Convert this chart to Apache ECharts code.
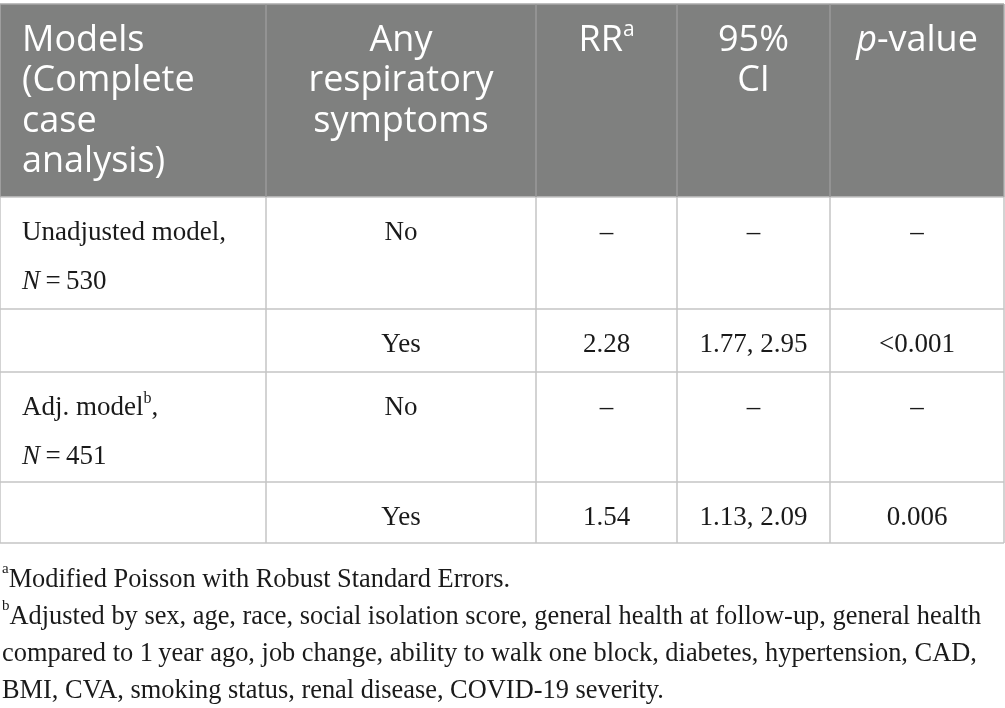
<!DOCTYPE html>
<html lang="en">
  <head>
    <meta charset="UTF-8" />
    <title>Respiratory symptoms RR table</title>
    <script src="https://cdn.jsdelivr.net/npm/echarts@6.0.0/dist/echarts.min.js"></script>
    <style>
      html, body { margin: 0; padding: 0; background: #fff; }
    </style>
  </head>
  <body>
    <div id="main" style="width: 1005px; height: 708px"></div>
    <script>
      // table content
      var headers = [
        'Models\n(Complete\ncase\nanalysis)',
        'Any\nrespiratory\nsymptoms',
        'RR{sup|a}',
        '95%\nCI',
        '{i|p}-value'
      ]
      var modelNames = ['Unadjusted model,', 'Adj. model{sup|b},']
      var modelN = [530, 451]
      var symptoms = ['No', 'Yes', 'No', 'Yes']
      var rrValues = [null, 2.28, null, 1.54]
      var ciLower = [null, 1.77, null, 1.13]
      var ciUpper = [null, 2.95, null, 2.09]
      var pValues = [null, '<0.001', null, '0.006']
      var footnotes = [
        '{fs|a}Modified Poisson with Robust Standard Errors.',
        '{fs|b}Adjusted by sex, age, race, social isolation score, general health at follow-up, general health',
        'compared to 1\u2009year ago, job change, ability to walk one block, diabetes, hypertension, CAD,',
        'BMI, CVA, smoking status, renal disease, COVID-19 severity.'
      ]

      // layout
      var colEdges = [0, 266, 536, 677, 830, 1004]
      var rowEdges = [4, 197, 309, 372, 482, 543]
      var headFont = '"Open Sans", "Noto Sans", sans-serif'
      var bodyFont = '"Liberation Serif", "DejaVu Serif", serif'
      var lineColor = '#c4c4c4'
      var ink = '#1a1a1a'

      var chart = echarts.init(document.getElementById('main'))
      var g = []

      // header background
      g.push({
        type: 'rect',
        shape: { x: colEdges[0], y: rowEdges[0], width: colEdges[5] - colEdges[0], height: rowEdges[1] - rowEdges[0] },
        style: { fill: '#7f807f' }
      })

      headers.forEach(function (h, c) {
        var left = c === 0
        g.push({
          type: 'text',
          style: {
            text: h,
            x: left ? colEdges[c] + 22 : (colEdges[c] + colEdges[c + 1]) / 2,
            y: 20,
            fill: '#fff',
            fontSize: 36,
            fontFamily: headFont,
            lineHeight: 40.5,
            align: left ? 'left' : 'center',
            verticalAlign: 'top',
            rich: {
              sup: { fontSize: 21, fontFamily: headFont, fill: '#fff', verticalAlign: 'top', lineHeight: 40.5 },
              i: { fontSize: 36, fontFamily: headFont, fontStyle: 'italic', fill: '#fff', lineHeight: 40.5 }
            }
          }
        })
      })

      function cellText(text, x, y, align) {
        g.push({
          type: 'text',
          style: {
            text: text,
            x: x,
            y: y,
            fill: ink,
            fontSize: 27,
            fontFamily: bodyFont,
            lineHeight: 49,
            align: align,
            verticalAlign: 'top',
            rich: {
              i: { fontSize: 27, fontFamily: bodyFont, fontStyle: 'italic', fill: ink, lineHeight: 49 },
              sup: { fontSize: 16, fontFamily: bodyFont, fill: ink, verticalAlign: 'middle', padding: [0, 0, 18, 0] }
            }
          }
        })
      }

      function mid(c) { return (colEdges[c] + colEdges[c + 1]) / 2 }

      for (var r = 0; r < 4; r++) {
        var cellTop = rowEdges[r + 1] + 11
        if (r % 2 === 0) {
          var m = r / 2
          cellText(modelNames[m] + '\n{i|N}\u2009=\u2009' + modelN[m], colEdges[0] + 22, cellTop, 'left')
        }
        cellText(symptoms[r], mid(1), cellTop, 'center')
        cellText(rrValues[r] == null ? '\u2013' : rrValues[r].toFixed(2), mid(2), cellTop, 'center')
        cellText(ciLower[r] == null ? '\u2013' : ciLower[r].toFixed(2) + ', ' + ciUpper[r].toFixed(2), mid(3), cellTop, 'center')
        cellText(pValues[r] == null ? '\u2013' : pValues[r], mid(4), cellTop, 'center')
      }

      // grid lines
      function line(x1, y1, x2, y2, color) {
        g.push({
          type: 'line',
          shape: { x1: x1, y1: y1, x2: x2, y2: y2 },
          style: { stroke: color, lineWidth: 1.5 }
        })
      }
      rowEdges.forEach(function (y, i) {
        line(colEdges[0], y, colEdges[5], y, i === 0 ? '#a9a9a9' : lineColor)
      })
      colEdges.forEach(function (x, i) {
        line(x, rowEdges[0], x, rowEdges[1], i === 0 || i === 5 ? '#a9a9a9' : '#9a9a9a')
        line(x, rowEdges[1], x, rowEdges[5], lineColor)
      })

      // footnotes
      footnotes.forEach(function (f, i) {
        g.push({
          type: 'text',
          style: {
            text: f,
            x: 2,
            y: 562 + i * 37,
            fill: ink,
            fontSize: 26.4,
            fontFamily: bodyFont,
            lineHeight: 37,
            align: 'left',
            verticalAlign: 'top',
            rich: {
              fs: { fontSize: 15, fontFamily: bodyFont, fill: ink, verticalAlign: 'top', lineHeight: 37 }
            }
          }
        })
      })

      chart.setOption({ animation: false, graphic: { elements: g } })
    </script>
  </body>
</html>
